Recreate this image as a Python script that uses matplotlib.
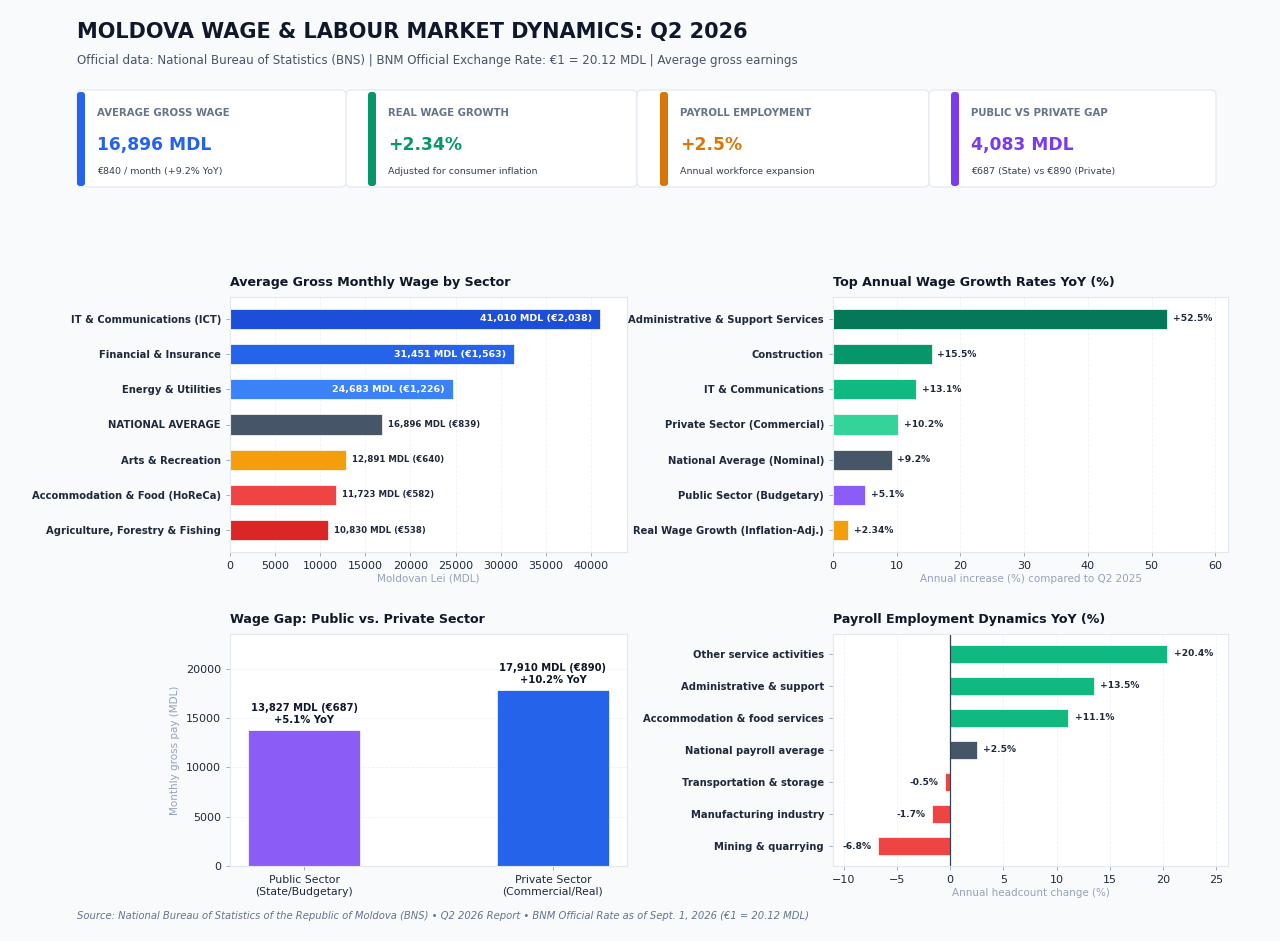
import numpy as np
import matplotlib
matplotlib.use("Agg")
import matplotlib.pyplot as plt
from matplotlib.patches import FancyBboxPatch

plt.rcParams['font.family'] = ['DejaVu Sans']

RATE = 20.12

# KPI cards
card_labels = ["AVERAGE GROSS WAGE", "REAL WAGE GROWTH", "PAYROLL EMPLOYMENT", "PUBLIC VS PRIVATE GAP"]
card_values = ["16,896 MDL", "+2.34%", "+2.5%", "4,083 MDL"]
card_subs = ["€840 / month (+9.2% YoY)", "Adjusted for consumer inflation",
             "Annual workforce expansion", "€687 (State) vs €890 (Private)"]
card_colors = ["#2563eb", "#059669", "#d97706", "#7c3aed"]

# sector wages
sectors = ["IT & Communications (ICT)", "Financial & Insurance", "Energy & Utilities",
           "NATIONAL AVERAGE", "Arts & Recreation", "Accommodation & Food (HoReCa)",
           "Agriculture, Forestry & Fishing"]
wages = [41010, 31451, 24683, 16896, 12891, 11723, 10830]
wage_colors = ["#1d4ed8", "#2563eb", "#3b82f6", "#475569", "#f59e0b", "#ef4444", "#dc2626"]

# growth rates
growth_cats = ["Administrative & Support Services", "Construction", "IT & Communications",
               "Private Sector (Commercial)", "National Average (Nominal)",
               "Public Sector (Budgetary)", "Real Wage Growth (Inflation-Adj.)"]
growth_vals = [52.5, 15.5, 13.1, 10.2, 9.2, 5.1, 2.34]
growth_labels = ["+52.5%", "+15.5%", "+13.1%", "+10.2%", "+9.2%", "+5.1%", "+2.34%"]
growth_colors = ["#047857", "#059669", "#10b981", "#34d399", "#475569", "#8b5cf6", "#f59e0b"]

# public vs private
gap_cats = ["Public Sector\n(State/Budgetary)", "Private Sector\n(Commercial/Real)"]
gap_vals = [13827, 17910]
gap_yoy = [5.1, 10.2]
gap_colors = ["#8b5cf6", "#2563eb"]

# employment
emp_cats = ["Other service activities", "Administrative & support", "Accommodation & food services",
            "National payroll average", "Transportation & storage", "Manufacturing industry",
            "Mining & quarrying"]
emp_vals = [20.4, 13.5, 11.1, 2.5, -0.5, -1.7, -6.8]

BG = "#f8fafc"
DARK = "#0f172a"
TXT = "#1e293b"
MUTED = "#94a3b8"
GRIDC = "#e2e8f0"

fig = plt.figure(figsize=(12.8, 9.41), dpi=100, facecolor=BG)

# overlay for header / cards (pixel coordinates)
ov = fig.add_axes([0, 0, 1, 1], zorder=0)
ov.set_xlim(0, 1280)
ov.set_ylim(941, 0)
ov.axis("off")
ov.patch.set_alpha(0)

ov.text(77, 32, "MOLDOVA WAGE & LABOUR MARKET DYNAMICS: Q2 2026", fontsize=15, fontweight="bold",
        color=DARK, va="center", ha="left")
ov.text(77, 60, "Official data: National Bureau of Statistics (BNS) | BNM Official Exchange Rate: €1 = 20.12 MDL | Average gross earnings",
        fontsize=8.6, color="#475569", va="center", ha="left")

box_left = [77, 346, 637, 929, 1216]
strip_x = [77, 368, 660, 951]
for i in range(4):
    ov.add_patch(FancyBboxPatch((box_left[i], 90), box_left[i + 1] - box_left[i], 97,
                                boxstyle="round,pad=0,rounding_size=5", facecolor="white",
                                edgecolor=GRIDC, linewidth=0.8))
    ov.add_patch(FancyBboxPatch((strip_x[i], 92), 8, 94, boxstyle="round,pad=0,rounding_size=3",
                                facecolor=card_colors[i], edgecolor="none"))
    tx = strip_x[i] + 20
    ov.text(tx, 113, card_labels[i], fontsize=7.3, fontweight="bold", color="#64748b", va="center")
    ov.text(tx, 145, card_values[i], fontsize=12.3, fontweight="bold", color=card_colors[i], va="center")
    ov.text(tx, 171, card_subs[i], fontsize=6.8, color="#334155", va="center")

ov.text(77, 916, "Source: National Bureau of Statistics of the Republic of Moldova (BNS) • Q2 2026 Report • BNM Official Rate as of Sept. 1, 2026 (€1 = 20.12 MDL)",
        fontsize=7.2, style="italic", color="#64748b", va="center")


def style(ax, gridaxis):
    ax.set_facecolor("white")
    for s in ax.spines.values():
        s.set_color(GRIDC)
        s.set_linewidth(0.8)
    ax.grid(axis=gridaxis, linestyle="--", color="#eef2f6", linewidth=0.6)
    ax.set_axisbelow(True)
    ax.tick_params(axis="both", labelsize=8, colors=TXT, length=3, width=0.6)
    ax.tick_params(axis="both", color="#94a3b8")


ax1 = fig.add_axes([230 / 1280, 1 - 552 / 941, 397 / 1280, 255 / 941], zorder=2)
ax2 = fig.add_axes([833 / 1280, 1 - 552 / 941, 395 / 1280, 255 / 941], zorder=2)
ax3 = fig.add_axes([230 / 1280, 1 - 866 / 941, 397 / 1280, 232 / 941], zorder=2)
ax4 = fig.add_axes([833 / 1280, 1 - 866 / 941, 395 / 1280, 232 / 941], zorder=2)

# panel 1
style(ax1, "x")
y = np.arange(len(sectors))
ax1.barh(y, wages, height=0.58, color=wage_colors, edgecolor="white", linewidth=0.5)
ax1.set_yticks(y)
ax1.set_yticklabels(sectors, fontsize=7.2, fontweight="bold")
ax1.invert_yaxis()
ax1.set_xlim(0, 44000)
for i, v in enumerate(wages):
    lab = f"{v:,} MDL (€{int(v / RATE):,})"
    if v > 20000:
        ax1.text(v - 900, i, lab, ha="right", va="center", color="white", fontsize=6.8, fontweight="bold")
    else:
        ax1.text(v + 650, i, lab, ha="left", va="center", color=TXT, fontsize=6.2, fontweight="bold")
ax1.set_xlabel("Moldovan Lei (MDL)", fontsize=7.5, color=MUTED, labelpad=2)
ax1.set_title("Average Gross Monthly Wage by Sector", loc="left", fontsize=9.1, fontweight="bold",
              color=DARK, pad=8)

# panel 2
style(ax2, "x")
y = np.arange(len(growth_cats))
ax2.barh(y, growth_vals, height=0.58, color=growth_colors, edgecolor="white", linewidth=0.5)
ax2.set_yticks(y)
ax2.set_yticklabels(growth_cats, fontsize=7.2, fontweight="bold")
ax2.invert_yaxis()
ax2.set_xlim(0, 62)
for i, v in enumerate(growth_vals):
    ax2.text(v + 0.9, i, growth_labels[i], ha="left", va="center", color=TXT, fontsize=6.6, fontweight="bold")
ax2.set_xlabel("Annual increase (%) compared to Q2 2025", fontsize=7.5, color=MUTED, labelpad=2)
ax2.set_title("Top Annual Wage Growth Rates YoY (%)", loc="left", fontsize=9.1, fontweight="bold",
              color=DARK, pad=8)

# panel 3
style(ax3, "y")
x = np.arange(len(gap_cats))
ax3.bar(x, gap_vals, width=0.45, color=gap_colors, edgecolor="white", linewidth=0.5)
ax3.set_xticks(x)
ax3.set_xticklabels(gap_cats, fontsize=7.8)
ax3.set_ylim(0, 23550)
for i, v in enumerate(gap_vals):
    ax3.text(i, v + 500, f"{v:,} MDL (€{int(v / RATE)})\n+{gap_yoy[i]}% YoY", ha="center", va="bottom",
             fontsize=7.2, fontweight="bold", color=DARK, linespacing=1.25)
ax3.set_ylabel("Monthly gross pay (MDL)", fontsize=7.5, color=MUTED)
ax3.set_title("Wage Gap: Public vs. Private Sector", loc="left", fontsize=9.1, fontweight="bold",
              color=DARK, pad=8)

# panel 4
style(ax4, "x")
y = np.arange(len(emp_cats))
emp_colors = ["#475569" if c == "National payroll average" else ("#10b981" if v > 0 else "#ef4444")
              for c, v in zip(emp_cats, emp_vals)]
ax4.barh(y, emp_vals, height=0.58, color=emp_colors, edgecolor="white", linewidth=0.5)
ax4.axvline(0, color="#334155", linewidth=0.9)
ax4.set_yticks(y)
ax4.set_yticklabels(emp_cats, fontsize=7.2, fontweight="bold")
ax4.invert_yaxis()
ax4.set_xlim(-11, 26.1)
for i, v in enumerate(emp_vals):
    if v >= 0:
        ax4.text(v + 0.6, i, f"+{v}%", ha="left", va="center", color=TXT, fontsize=6.6, fontweight="bold")
    else:
        ax4.text(v - 0.6, i, f"{v}%", ha="right", va="center", color=TXT, fontsize=6.6, fontweight="bold")
ax4.set_xlabel("Annual headcount change (%)", fontsize=7.5, color=MUTED, labelpad=2)
ax4.set_title("Payroll Employment Dynamics YoY (%)", loc="left", fontsize=9.1, fontweight="bold",
              color=DARK, pad=8)

fig.savefig("out.png", dpi=100, facecolor=BG)
